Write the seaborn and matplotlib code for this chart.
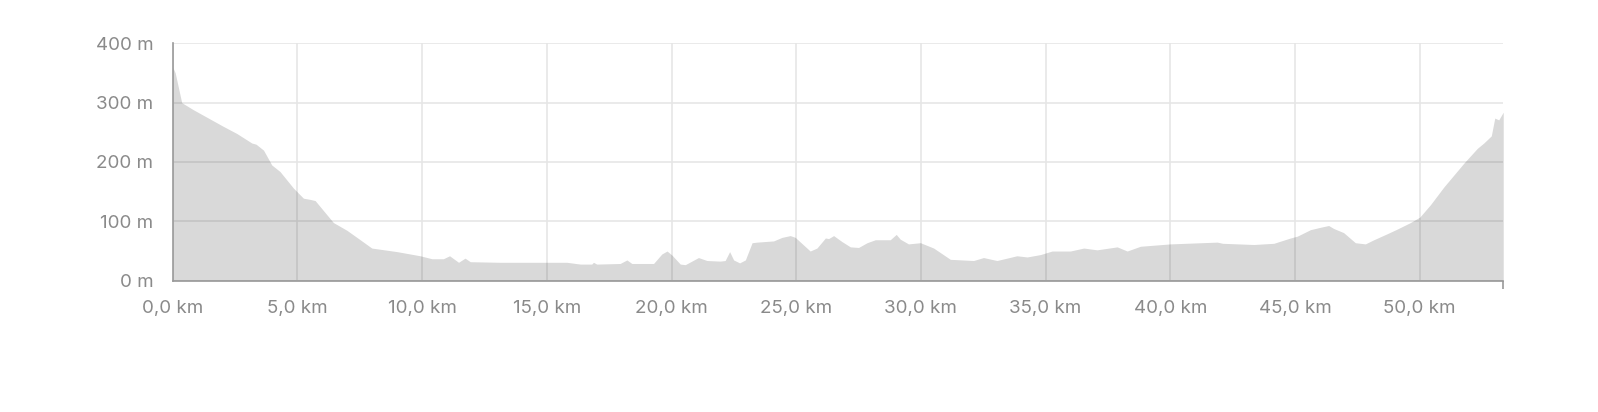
import numpy as np
import pandas as pd
import seaborn as sns
import matplotlib.pyplot as plt

# elevation profile (km, m)
dist_km = [0.0, 0.1, 0.36, 0.83, 1.43, 2.03, 2.57, 3.17, 3.34, 3.64, 3.97, 4.3,
           4.84, 5.24, 5.51, 5.71, 6.44, 6.98, 7.45, 7.98, 8.99, 9.92, 10.39,
           10.85, 11.1, 11.46, 11.72, 11.93, 13.13, 15.0, 15.8, 16.34, 16.8,
           16.87, 17.0, 17.94, 18.21, 18.41, 19.28, 19.61, 19.82, 20.02, 20.35,
           20.55, 21.08, 21.42, 21.95, 22.15, 22.33, 22.49, 22.73, 22.96, 23.23,
           23.43, 24.09, 24.43, 24.76, 24.96, 25.56, 25.83, 26.17, 26.3, 26.5,
           26.83, 27.17, 27.5, 27.84, 28.17, 28.77, 29.01, 29.17, 29.5, 29.98,
           30.51, 31.18, 32.11, 32.51, 33.05, 33.85, 34.26, 34.79, 35.26, 35.99,
           36.53, 37.06, 37.87, 38.27, 38.8, 40.0, 41.88, 42.1, 43.35, 44.15,
           44.82, 45.09, 45.62, 46.02, 46.35, 46.55, 46.95, 47.42, 47.82, 48.16,
           48.69, 49.1, 49.63, 50.0, 50.43, 50.97, 51.77, 52.31, 52.57, 52.87,
           53.01, 53.17, 53.35]
elev_m = [360, 350, 300, 288, 274, 260, 248, 232, 230, 220, 195, 184,
          156, 139, 137, 135, 98, 85, 71, 55, 49, 42, 37,
          37, 42, 31, 38, 32, 31, 31, 31, 28, 28,
          31, 28, 29, 35, 29, 29, 45, 50, 43, 28,
          27, 39, 34, 33, 34, 49, 35, 30, 35, 64,
          65, 67, 73, 76, 73, 50, 55, 72, 71, 76,
          66, 57, 56, 64, 69, 69, 78, 70, 62, 64,
          55, 36, 34, 39, 34, 42, 40, 44, 50, 50,
          55, 52, 57, 50, 58, 62, 65, 63, 61, 63,
          72, 75, 86, 90, 93, 88, 81, 64, 62, 69,
          79, 87, 98, 107, 128, 158, 198, 223, 232, 244,
          274, 271, 284]

x_ticks = [0, 5, 10, 15, 20, 25, 30, 35, 40, 45, 50]
y_ticks = [0, 100, 200, 300, 400]

df = pd.DataFrame({"km": dist_km, "m": elev_m})

sns.set_theme(style="white")
plt.rcParams['font.family'] = ['Inter', 'DejaVu Sans']

fig = plt.figure(figsize=(15.98, 4.12), dpi=100)
ax = fig.add_axes([0.1081, 0.3187, 0.9407 - 0.1081, 0.8949 - 0.3187])

sns.lineplot(data=df, x="km", y="m", ax=ax, color="#d9d9d9", linewidth=0)
ax.fill_between(df["km"], df["m"], 0, color="black", alpha=0.15, linewidth=0, zorder=2)

ax.set_xlim(0, df["km"].max())
ax.set_ylim(0, 400)
ax.set_xticks(x_ticks)
ax.set_xticklabels([f"{v:.1f} km".replace(".", ",") for v in x_ticks])
ax.set_yticks(y_ticks)
ax.set_yticklabels([f"{v} m" for v in y_ticks])
ax.set_xticks([0, df["km"].max()], minor=True)
ax.set_yticks([0, 400], minor=True)

ax.grid(True, color="#e6e6e6", linewidth=1.2, zorder=1)
ax.set_axisbelow(True)
ax.tick_params(which="major", length=0, labelsize=13.5, colors="#8a8a8a")
ax.tick_params(axis="y", which="major", pad=14)
ax.tick_params(axis="x", which="major", pad=14)
ax.tick_params(axis="y", which="minor", length=8, width=1.2, color="#999999")
ax.tick_params(axis="x", which="minor", length=6, width=1.2, color="#999999")
ax.tick_params(left=True, bottom=True, which="minor")

for side in ["top", "right"]:
    ax.spines[side].set_visible(False)
for side in ["left", "bottom"]:
    ax.spines[side].set_color("#999999")
    ax.spines[side].set_linewidth(1.2)

ax.set_xlabel("")
ax.set_ylabel("")

fig.savefig("out.png", dpi=100)
